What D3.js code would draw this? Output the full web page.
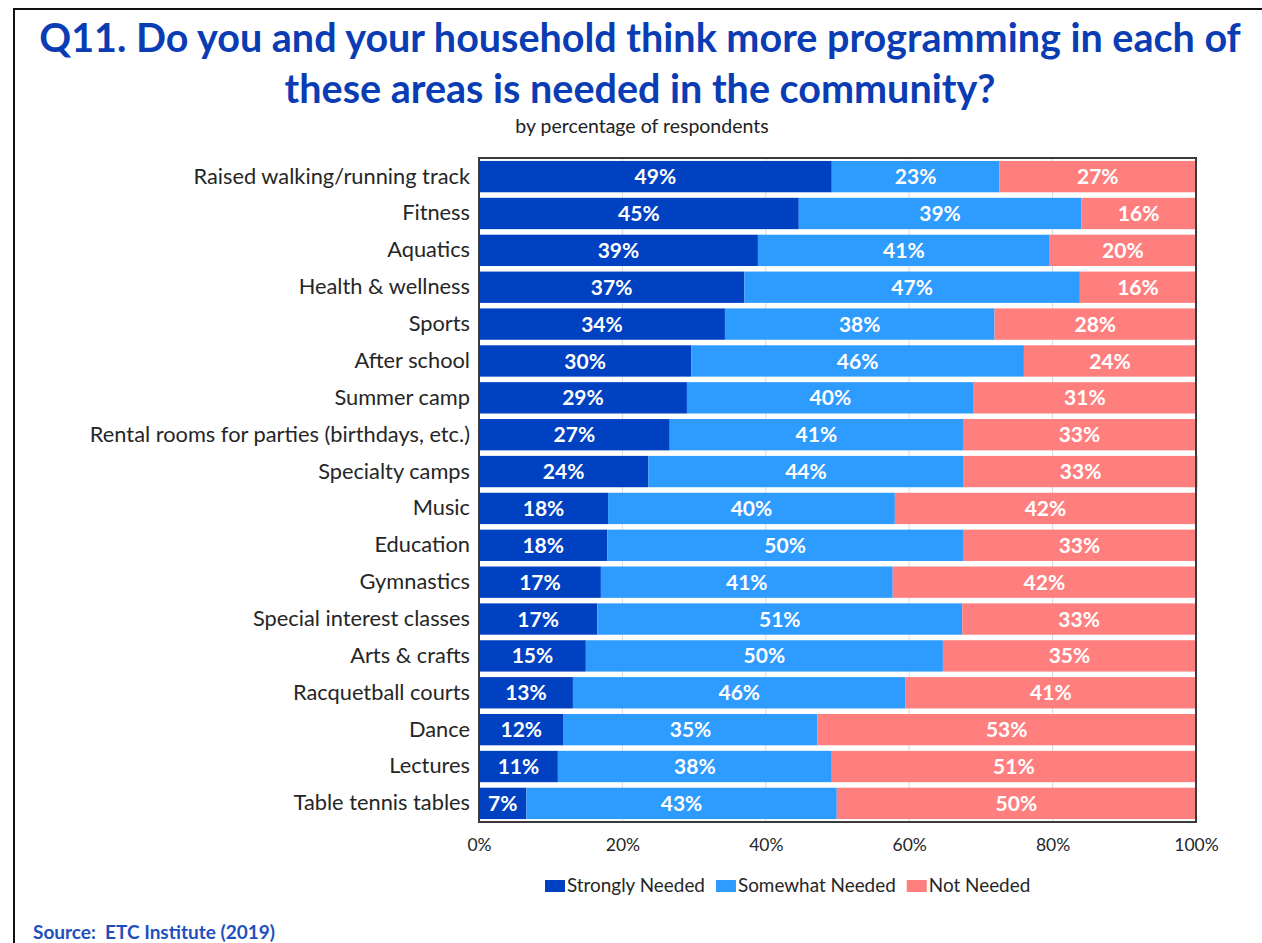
<!DOCTYPE html>
<html>
<head>
<meta charset="utf-8">
<script src="https://cdn.jsdelivr.net/npm/d3@7"></script>
<style>
  html, body { margin: 0; padding: 0; background: #fff; }
  svg { display: block; }
</style>
</head>
<body>
<svg id="chart" width="1262" height="943"></svg>
<script>
const categories = [
  "Raised walking/running track", "Fitness", "Aquatics", "Health & wellness",
  "Sports", "After school", "Summer camp", "Rental rooms for parties (birthdays, etc.)",
  "Specialty camps", "Music", "Education", "Gymnastics", "Special interest classes",
  "Arts & crafts", "Racquetball courts", "Dance", "Lectures", "Table tennis tables"
];
const strongly = [49.2, 44.6, 38.9, 37.0, 34.3, 29.6, 29.0, 26.6, 23.6, 18.0, 17.9, 17.0, 16.5, 14.9, 13.1, 11.8, 11.0, 6.6];
const somewhat = [23.4, 39.4, 40.7, 46.8, 37.6, 46.4, 40.0, 40.9, 44.0, 40.0, 49.6, 40.7, 50.9, 49.8, 46.4, 35.4, 38.2, 43.3];
const notNeeded = [27.4, 16.0, 20.4, 16.2, 28.1, 24.0, 31.0, 32.5, 32.6, 42.0, 32.5, 42.3, 32.6, 35.3, 40.5, 52.8, 50.8, 50.1];
const seriesNames = ["Strongly Needed", "Somewhat Needed", "Not Needed"];
const seriesColors = ["#0041c2", "#2e9bff", "#ff7f7f"];
const xTicks = [0, 20, 40, 60, 80, 100];

const svg = d3.select("#chart");
const font = "Lato, 'Open Sans', sans-serif";

// outer frame
svg.append("path").attr("d", "M14,943 L14,9 L1262,9")
  .attr("fill", "none").attr("stroke", "#111").attr("stroke-width", 2);

// title
const title = svg.append("text").attr("text-anchor", "middle")
  .attr("font-family", font).attr("font-weight", "bold").attr("fill", "#0a3cb4")
  .attr("font-size", 39.5);
title.append("tspan").attr("x", 640).attr("y", 52).text("Q11. Do you and your household think more programming in each of");
title.append("tspan").attr("x", 640).attr("y", 103).text("these areas is needed in the community?");
svg.append("text").attr("x", 642).attr("y", 133).attr("text-anchor", "middle")
  .attr("font-family", font).attr("font-size", 19.5).attr("fill", "#222")
  .text("by percentage of respondents");

const margin = { left: 479, right: 1196, top: 158, bottom: 822 };
const x = d3.scaleLinear().domain([0, 100]).range([margin.left, margin.right]);
const y = d3.scaleBand().domain(categories).range([margin.top, margin.bottom]).paddingInner(0.15).paddingOuter(0.08);

// gridlines
svg.append("g").selectAll("line").data(xTicks.slice(1, -1)).join("line")
  .attr("x1", d => x(d)).attr("x2", d => x(d))
  .attr("y1", margin.top).attr("y2", margin.bottom)
  .attr("stroke", "#d9d9d9").attr("stroke-width", 1);

const rows = categories.map((c, i) => ({ cat: c, vals: [strongly[i], somewhat[i], notNeeded[i]] }));
const seg = [];
rows.forEach(r => {
  let acc = 0;
  r.vals.forEach((v, k) => { seg.push({ cat: r.cat, k, v, x0: acc, x1: acc + v }); acc += v; });
});

svg.append("g").selectAll("rect").data(seg).join("rect")
  .attr("x", d => x(d.x0)).attr("width", d => x(d.x1) - x(d.x0))
  .attr("y", d => y(d.cat)).attr("height", y.bandwidth())
  .attr("fill", d => seriesColors[d.k]);

svg.append("g").selectAll("text").data(seg).join("text")
  .attr("x", d => (x(d.x0) + x(d.x1)) / 2)
  .attr("y", d => y(d.cat) + y.bandwidth() / 2)
  .attr("dy", "0.36em").attr("text-anchor", "middle")
  .attr("font-family", font).attr("font-weight", "bold").attr("font-size", 21)
  .attr("fill", "#fff").text(d => Math.round(d.v) + "%");

// plot frame
svg.append("rect").attr("x", margin.left).attr("y", margin.top)
  .attr("width", margin.right - margin.left).attr("height", margin.bottom - margin.top)
  .attr("fill", "none").attr("stroke", "#3a3a3a").attr("stroke-width", 2);

// category axis
const yAxis = svg.append("g").attr("transform", `translate(${margin.left},0)`)
  .call(d3.axisLeft(y).tickSize(0).tickPadding(9));
yAxis.select(".domain").remove();
yAxis.selectAll("text").attr("font-family", font).attr("font-size", 21.8).attr("fill", "#262626");

// x axis
const xAxis = svg.append("g").attr("transform", `translate(0,${margin.bottom})`)
  .call(d3.axisBottom(x).tickValues(xTicks).tickSize(0).tickPadding(17).tickFormat(d => d + "%"));
xAxis.select(".domain").remove();
xAxis.selectAll("text").attr("font-family", font).attr("font-size", 17.5).attr("fill", "#262626");

// legend (laid out sequentially by measured text width)
const lg = svg.append("g");
let lx = 545;
seriesNames.forEach((name, i) => {
  lg.append("rect").attr("x", lx).attr("y", 880).attr("width", 20).attr("height", 12).attr("fill", seriesColors[i]);
  const t = lg.append("text").attr("x", lx + 22).attr("y", 892)
    .attr("font-family", font).attr("font-size", 18.9).attr("fill", "#262626").text(name);
  lx += 22 + t.node().getComputedTextLength() + 11;
});

// source
svg.append("text").attr("x", 33).attr("y", 939).attr("xml:space", "preserve")
  .attr("font-family", font).attr("font-weight", "bold").attr("font-size", 19)
  .attr("fill", "#1f4fbf").text("Source:\u00a0 ETC Institute (2019)");
</script>
</body>
</html>
